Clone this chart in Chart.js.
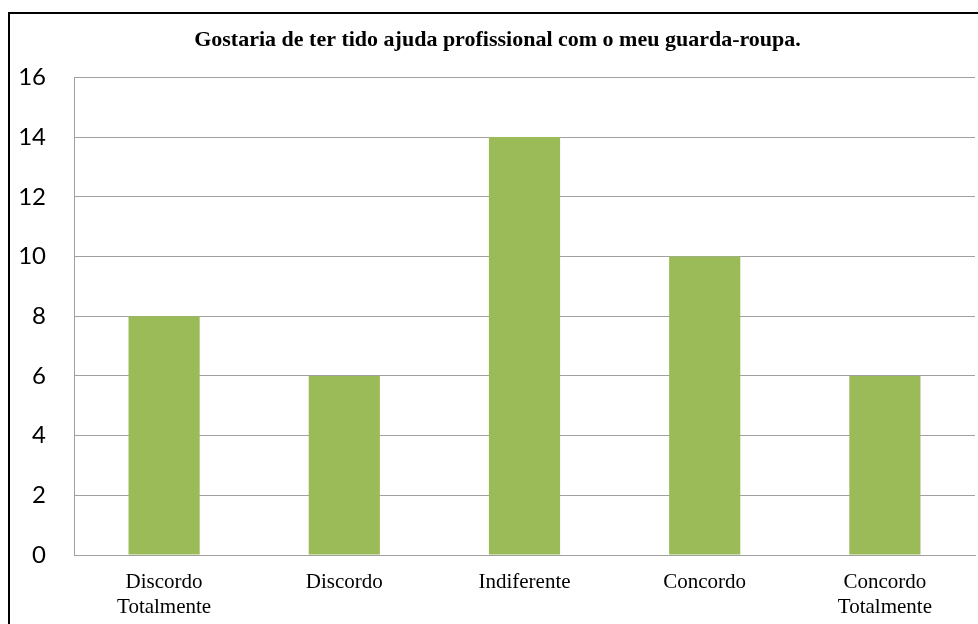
<!DOCTYPE html>
<html>
<head>
<meta charset="utf-8">
<script src="https://cdn.jsdelivr.net/npm/chart.js@4/dist/chart.umd.min.js"></script>
<style>
  html, body { margin: 0; padding: 0; background: #fff; }
  #wrap { position: relative; width: 978px; height: 624px; overflow: hidden; }
  #frame { position: absolute; left: 8px; top: 12px; width: 1000px; height: 700px; border: 2px solid #000; box-sizing: border-box; }
  canvas { position: absolute; left: 0; top: 0; }
</style>
</head>
<body>
<div id="wrap">
  <div id="frame"></div>
  <canvas id="chart" width="978" height="624"></canvas>
</div>
<script>
const categories = [['Discordo', 'Totalmente'], 'Discordo', 'Indiferente', 'Concordo', ['Concordo', 'Totalmente']];
const values = [8, 6, 14, 10, 6];
const chartTitle = 'Gostaria de ter tido ajuda profissional com o meu guarda-roupa.';

new Chart(document.getElementById('chart').getContext('2d'), {
  type: 'bar',
  data: {
    labels: categories,
    datasets: [{
      data: values,
      backgroundColor: '#9BBB59',
      categoryPercentage: 1,
      barPercentage: 0.395
    }]
  },
  options: {
    responsive: false,
    animation: false,
    layout: { padding: { left: 20, right: 3, top: 0, bottom: 0 } },
    plugins: {
      legend: { display: false },
      tooltip: { enabled: false },
      title: {
        display: true,
        text: chartTitle,
        color: '#000',
        font: { family: "'Liberation Serif'", size: 22, weight: 'bold' },
        padding: { top: 27, bottom: 24 }
      }
    },
    scales: {
      x: {
        afterFit: s => { s.height = 69; },
        grid: { display: false, drawTicks: false },
        border: { color: '#a0a0a0', width: 1 },
        ticks: {
          color: '#000',
          font: { family: "'Liberation Serif'", size: 21, lineHeight: 1.2 },
          padding: 15,
          maxRotation: 0,
          autoSkip: false
        }
      },
      y: {
        min: 0,
        max: 16,
        afterFit: s => { s.width = 54; },
        grid: { color: '#a0a0a0', drawTicks: false },
        border: { color: '#a0a0a0', width: 1 },
        ticks: {
          stepSize: 2,
          color: '#000',
          font: { family: 'Lato', size: 24 },
          padding: 28
        }
      }
    }
  }
});
</script>
</body>
</html>
